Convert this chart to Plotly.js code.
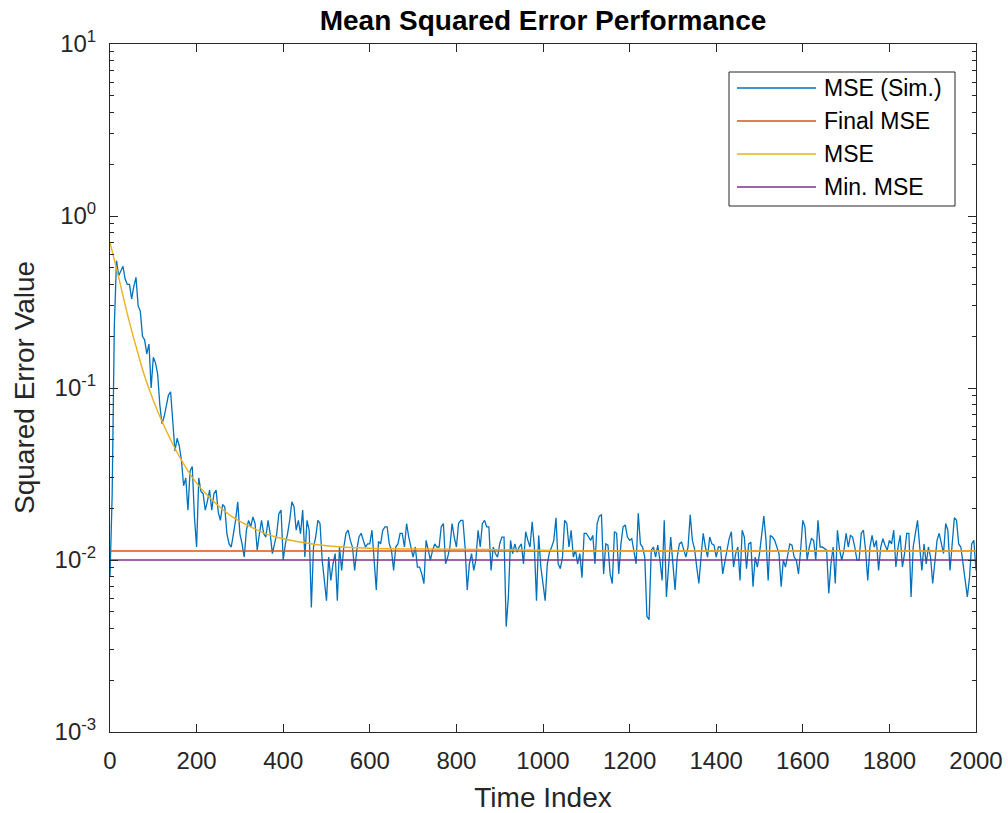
<!DOCTYPE html>
<html><head><meta charset="utf-8">
<script src="https://cdn.plot.ly/plotly-3.0.1.min.js"></script>
<style>html,body{margin:0;padding:0;background:#fff}#chart{width:1008px;height:813px}</style>
</head><body><div id="chart"></div>
<script>
// ---- data ----
const simStartTime = 0;
const simTimeStep = 5;
// simulated MSE, one value every 5 time indices, t = 0 ... 2000 (rows of 20 = 100 time units)
const mseSim = [
  0.0080,0.024,0.23,0.55,0.45,0.48,0.51,0.43,0.40,0.40,0.33,0.39,0.44,0.30,0.28,0.20,0.19,0.158,0.18,0.10,
  0.151,0.14,0.121,0.080,0.062,0.068,0.081,0.091,0.095,0.060,0.043,0.051,0.046,0.038,0.027,0.030,0.0195,0.033,0.035,0.0178,
  0.0119,0.030,0.025,0.0243,0.0195,0.022,0.0255,0.0195,0.0243,0.0255,0.019,0.017,0.021,0.0204,0.0142,0.0124,0.0119,0.0142,0.017,0.0218,
  0.0142,0.0124,0.0104,0.0149,0.017,0.0156,0.0178,0.0163,0.0114,0.0142,0.017,0.0142,0.0136,0.017,0.0142,0.0109,0.0124,0.0142,0.0186,0.0195,
  0.0100,0.0124,0.0142,0.017,0.0218,0.0204,0.0149,0.017,0.0142,0.0195,0.0104,0.0170,0.0149,0.0053,0.0119,0.0136,0.0170,0.0163,0.0100,0.0075,
  0.0058,0.0104,0.0076,0.0095,0.0109,0.0058,0.0119,0.0087,0.0119,0.0143,0.0149,0.0130,0.0119,0.0087,0.0114,0.0136,0.0143,0.0130,0.0119,0.0124,
  0.0124,0.0149,0.0104,0.0067,0.0128,0.0124,0.0149,0.0156,0.0156,0.0124,0.0114,0.0087,0.0119,0.0124,0.0143,0.0143,0.0119,0.0163,0.0136,0.0119,
  0.0104,0.0119,0.0091,0.0091,0.0083,0.0073,0.0130,0.0114,0.0100,0.0114,0.0124,0.0119,0.0119,0.0156,0.0163,0.0095,0.0104,0.0119,0.0163,0.0136,
  0.0119,0.0163,0.0170,0.0170,0.0119,0.0067,0.0095,0.0109,0.0087,0.0100,0.0149,0.0119,0.0163,0.0170,0.0156,0.0156,0.0087,0.0119,0.0109,0.0104,
  0.0124,0.0136,0.0136,0.0041,0.0061,0.0130,0.0109,0.0124,0.0111,0.0119,0.0124,0.0095,0.0146,0.0130,0.0119,0.0167,0.0120,0.0058,0.0139,0.0091,
  0.0070,0.0058,0.0095,0.0111,0.0119,0.0130,0.0176,0.0095,0.0089,0.0104,0.0170,0.0163,0.0119,0.0149,0.0104,0.0114,0.0095,0.0109,0.0079,0.0143,
  0.0143,0.0136,0.0130,0.0139,0.0095,0.0163,0.0180,0.0183,0.0083,0.0124,0.0122,0.0083,0.0073,0.0146,0.0143,0.0083,0.0124,0.0156,0.0160,0.0136,
  0.0130,0.0133,0.0109,0.0095,0.0187,0.0124,0.0119,0.0104,0.0047,0.0045,0.0114,0.0119,0.0104,0.0122,0.0100,0.0076,0.0170,0.0061,0.0091,0.0136,
  0.0095,0.0067,0.0104,0.0124,0.0127,0.0114,0.0104,0.0119,0.0183,0.0130,0.0116,0.0091,0.0073,0.0104,0.0143,0.0119,0.0104,0.0136,0.0124,0.0122,
  0.0104,0.0119,0.0119,0.0083,0.0100,0.0114,0.0133,0.0146,0.0091,0.0109,0.0119,0.0076,0.0149,0.0136,0.0089,0.0124,0.0127,0.0070,0.0104,0.0091,
  0.0109,0.0146,0.0180,0.0130,0.0076,0.0139,0.0136,0.0130,0.0119,0.0109,0.0070,0.0100,0.0091,0.0104,0.0124,0.0122,0.0104,0.0100,0.0083,0.0114,
  0.0170,0.0156,0.0100,0.0119,0.0133,0.0130,0.0100,0.0170,0.0119,0.0119,0.0116,0.0114,0.0064,0.0095,0.0119,0.0073,0.0149,0.0114,0.0100,0.0114,
  0.0143,0.0119,0.0139,0.0136,0.0119,0.0100,0.0100,0.0143,0.0149,0.0114,0.0076,0.0119,0.0139,0.0119,0.0130,0.0087,0.0119,0.0133,0.0122,0.0114,
  0.0130,0.0124,0.0149,0.0091,0.0119,0.0139,0.0091,0.0109,0.0143,0.0143,0.0061,0.0119,0.0143,0.0170,0.0119,0.0087,0.0124,0.0095,0.0119,0.0104,
  0.0073,0.0100,0.0130,0.0143,0.0124,0.0109,0.0163,0.0149,0.0087,0.0119,0.0176,0.0170,0.0124,0.0119,0.0095,0.0079,0.0061,0.0079,0.0124,0.0130,
  0.0087
];
// theoretical MSE curve, read at selected time indices
const theoryTime = [0, 20, 40, 60, 80, 100, 120, 140, 160, 180, 200, 220, 250, 280, 320, 360, 400, 450, 500, 600, 800, 1000, 1100, 2000];
const theoryMse  = [0.70, 0.44, 0.27, 0.175, 0.117, 0.085, 0.064, 0.050, 0.040, 0.033, 0.028, 0.0245, 0.0207, 0.0180, 0.0158, 0.0142, 0.0133, 0.0126, 0.0121, 0.0117, 0.01155, 0.0114, 0.01128, 0.01128];
const finalMseTime = [0, 2000];
const finalMse = [0.01128, 0.01128];
const minMseTime = [0, 2000];
const minMse = [0.0100, 0.0100];

const seriesNames = ['MSE (Sim.)', 'Final MSE', 'MSE', 'Min. MSE'];
const seriesColors = ['#0072BD', '#D95319', '#EDB120', '#7E2F8E'];
const xTickVals = [0, 200, 400, 600, 800, 1000, 1200, 1400, 1600, 1800, 2000];
const yTickVals = [0.001, 0.01, 0.1, 1, 10];
const yTickText = ['10<sup>-3</sup>', '10<sup>-2</sup>', '10<sup>-1</sup>', '10<sup>0</sup>', '10<sup>1</sup>'];
const titleText = 'Mean Squared Error Performance';
const xTitle = 'Time Index';
const yTitle = 'Squared Error Value';

// ---- figure ----
const FONT = '"Liberation Sans", Arial, Helvetica, sans-serif';
const AX = '#262626';
const W = 1008, H = 813;
const M = {l: 110, r: 32, t: 44, b: 81};
const PW = W - M.l - M.r, PH = H - M.t - M.b;
const px2x = p => (p - M.l) / PW;
const px2y = p => 1 - (p - M.t) / PH;

const minorVals = [];
for (let d = -3; d <= 0; d++) for (let k = 2; k <= 9; k++) minorVals.push(k * Math.pow(10, d));

const traces = [
  {type: 'scatter', mode: 'lines', name: seriesNames[0], x0: simStartTime, dx: simTimeStep, y: mseSim,
   line: {color: seriesColors[0], width: 1.3}},
  {type: 'scatter', mode: 'lines', name: seriesNames[1], x: finalMseTime, y: finalMse,
   line: {color: seriesColors[1], width: 1.4}},
  {type: 'scatter', mode: 'lines', name: seriesNames[2], x: theoryTime, y: theoryMse,
   line: {color: seriesColors[2], width: 1.4, shape: 'spline', smoothing: 1}},
  {type: 'scatter', mode: 'lines', name: seriesNames[3], x: minMseTime, y: minMse,
   line: {color: seriesColors[3], width: 1.4}}
];

// legend drawn as a MATLAB-style box
const shapes = [{type: 'rect', xref: 'paper', yref: 'paper', x0: px2x(729), x1: px2x(955), y0: px2y(72), y1: px2y(206),
  line: {color: AX, width: 1}, fillcolor: '#ffffff', layer: 'above'}];
const annotations = [];
const rowY = [88, 121, 154, 187];
seriesNames.forEach((n, i) => {
  shapes.push({type: 'line', xref: 'paper', yref: 'paper', x0: px2x(737), x1: px2x(816), y0: px2y(rowY[i]), y1: px2y(rowY[i]),
    line: {color: seriesColors[i], width: 1.3}, layer: 'above'});
  annotations.push({xref: 'paper', yref: 'paper', x: px2x(822), y: px2y(rowY[i]), xanchor: 'left', yanchor: 'middle',
    text: n, showarrow: false, font: {family: FONT, size: 23, color: '#000'}});
});
// y-axis title, placed like MATLAB's ylabel
annotations.push({xref: 'paper', yref: 'paper', x: px2x(24), y: 0.5, xanchor: 'center', yanchor: 'middle',
  text: yTitle, textangle: -90, showarrow: false, font: {family: FONT, size: 28, color: AX}});

const layout = {
  width: W, height: H, margin: M, paper_bgcolor: '#fff', plot_bgcolor: '#fff', showlegend: false,
  font: {family: FONT, color: AX},
  title: {text: '<b>' + titleText + '</b>', font: {family: FONT, size: 28, color: '#000'},
    x: 543 / W, xanchor: 'center', y: 1 - 20 / H, yanchor: 'middle', yref: 'container'},
  xaxis: {range: [0, 2000], tickvals: xTickVals, ticks: 'inside', ticklen: 8, tickwidth: 1, tickcolor: AX,
    showline: true, linecolor: AX, linewidth: 1, mirror: 'ticks', showgrid: false, zeroline: false,
    tickfont: {family: FONT, size: 24, color: AX}, ticklabelstandoff: 7,
    title: {text: xTitle, font: {family: FONT, size: 28, color: AX}, standoff: 19}},
  yaxis: {type: 'log', range: [-3, 1], tickvals: yTickVals, ticktext: yTickText, ticks: 'inside', ticklen: 8, tickwidth: 1, tickcolor: AX,
    showline: true, linecolor: AX, linewidth: 1, mirror: 'ticks', showgrid: false, zeroline: false,
    tickfont: {family: FONT, size: 24, color: AX}, ticklabelstandoff: 8,
    minor: {tickvals: minorVals, ticks: 'inside', ticklen: 4, tickcolor: AX, tickwidth: 1, showgrid: false}},
  shapes: shapes, annotations: annotations
};

Plotly.newPlot('chart', traces, layout, {displayModeBar: false, staticPlot: true});
</script>
</body></html>
